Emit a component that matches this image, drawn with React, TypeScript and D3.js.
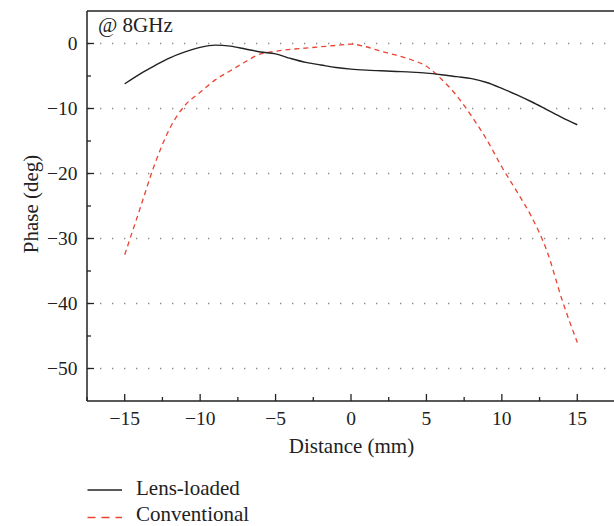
import React from "react";
import * as d3 from "d3";

const distances = [-15, -14, -13, -12, -11, -10, -9, -8, -7, -6, -5, -4, -3, -2, -1, 0, 1, 2, 3, 4, 5, 6, 7, 8, 9, 10, 11, 12, 13, 14, 15];
const lensLoaded = [-6.2, -4.7, -3.4, -2.2, -1.3, -0.6, -0.25, -0.4, -0.85, -1.3, -1.6, -2.3, -2.9, -3.3, -3.7, -3.95, -4.1, -4.2, -4.3, -4.4, -4.55, -4.8, -5.1, -5.4, -6.0, -6.9, -7.9, -9.0, -10.2, -11.4, -12.5];
const conventional = [-32.5, -25.5, -18.5, -13, -9.5, -7.5, -5.6, -4.2, -2.8, -1.6, -1.2, -0.9, -0.7, -0.5, -0.3, -0.1, -0.5, -1.2, -1.8, -2.5, -3.5, -5.5, -8, -11.2, -14.8, -19, -22.8, -26.8, -32, -39.5, -46];
const xTicks = [-15, -10, -5, 0, 5, 10, 15];
const xMinorTicks = [-17.5, -12.5, -7.5, -2.5, 2.5, 7.5, 12.5];
const yTicks = [0, -10, -20, -30, -40, -50];
const yMinorTicks = [-5, -15, -25, -35, -45];
const seriesNames = ["Lens-loaded", "Conventional"];
const annotation = "@ 8GHz";

const W = 614, H = 526;
const left = 87, top = 11, bottom = 401, right = 615;
const FONT = "'Liberation Serif', 'DejaVu Serif', serif";
const AX = "#222";
const RED = "#ea4330";
const TICK_FS = 19.5;
const TITLE_FS = 21;

export default function App() {
  const x = d3.scaleLinear().domain([-17.5, 17.5]).range([left, right]);
  const y = d3.scaleLinear().domain([-55, 5]).range([bottom, top]);
  const line = d3.line<number>().x((_, i) => x(distances[i])).y((d) => y(d)).curve(d3.curveMonotoneX);

  const fmt = (v: number) => (v < 0 ? "\u2212" + Math.abs(v) : String(v));

  return (
    <svg width={W} height={H} style={{ position: "absolute", left: 0, top: 0 }} fontFamily={FONT}>
      <rect x={0} y={0} width={W} height={H} fill="#fff" />
      {/* gridlines */}
      {yTicks.map((t) => (
        <line key={"g" + t} x1={left} x2={W} y1={y(t)} y2={y(t)} stroke="#888" strokeWidth={1.3}
          strokeDasharray="1.3 10.7" strokeDashoffset={-1} />
      ))}
      {/* series */}
      <path d={line(conventional) || ""} fill="none" stroke={RED} strokeWidth={1.3} strokeDasharray="5 4" />
      <path d={line(lensLoaded) || ""} fill="none" stroke={AX} strokeWidth={1.4} />
      {/* axes */}
      <line x1={left} x2={W} y1={top} y2={top} stroke={AX} strokeWidth={1.5} />
      <line x1={left} x2={left} y1={top} y2={bottom} stroke={AX} strokeWidth={1.5} />
      <line x1={left} x2={W} y1={bottom} y2={bottom} stroke={AX} strokeWidth={1.5} />
      {xTicks.map((t) => (
        <g key={"xt" + t}>
          <line x1={x(t)} x2={x(t)} y1={bottom} y2={bottom - 7} stroke={AX} strokeWidth={1.3} />
          <text x={x(t)} y={425} textAnchor="middle" fontSize={TICK_FS} fill={AX}>{fmt(t)}</text>
        </g>
      ))}
      {xMinorTicks.map((t) => (
        <line key={"xm" + t} x1={x(t)} x2={x(t)} y1={bottom} y2={bottom - 4} stroke={AX} strokeWidth={1.3} />
      ))}
      {yTicks.map((t) => (
        <g key={"yt" + t}>
          <line x1={left} x2={left + 7} y1={y(t)} y2={y(t)} stroke={AX} strokeWidth={1.3} />
          <text x={77.5} y={y(t) + 6.3} textAnchor="end" fontSize={TICK_FS} fill={AX}>{fmt(t)}</text>
        </g>
      ))}
      {yMinorTicks.map((t) => (
        <line key={"ym" + t} x1={left} x2={left + 4} y1={y(t)} y2={y(t)} stroke={AX} strokeWidth={1.3} />
      ))}
      <text x={351.5} y={453} textAnchor="middle" fontSize={TITLE_FS} fill={AX}>Distance (mm)</text>
      <text transform={`translate(38,204) rotate(-90)`} textAnchor="middle" fontSize={TITLE_FS} fill={AX}>Phase (deg)</text>
      <text x={98} y={32} fontSize={TITLE_FS} fill={AX}>{annotation}</text>
      {/* legend */}
      <line x1={87.5} x2={122} y1={490} y2={490} stroke={AX} strokeWidth={1.4} />
      <text x={136} y={494.5} fontSize={TITLE_FS} fill={AX}>{seriesNames[0]}</text>
      <line x1={87.5} x2={122} y1={517.5} y2={517.5} stroke={RED} strokeWidth={1.3} strokeDasharray="8 6" />
      <text x={136} y={521.3} fontSize={TITLE_FS} fill={AX}>{seriesNames[1]}</text>
    </svg>
  );
}
